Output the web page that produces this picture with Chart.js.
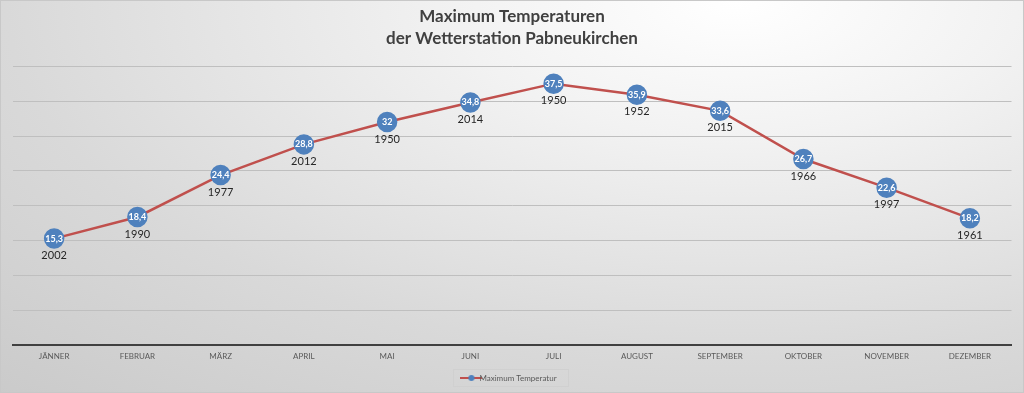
<!DOCTYPE html>
<html>
<head>
<meta charset="utf-8">
<script src="https://cdn.jsdelivr.net/npm/chart.js@4/dist/chart.umd.min.js"></script>
<style>
  html, body { margin: 0; padding: 0; }
  #wrap {
    width: 1022px; height: 391px;
    border: 1px solid #c8c8c8;
    background: radial-gradient(ellipse 110% 140% at 72% 0%, #ffffff 0%, #f2f2f2 25%, #d9d9d9 65%, #c9c9c9 100%);
  }
</style>
</head>
<body>
<div id="wrap"><canvas id="myChart" width="1022" height="391"></canvas></div>
<script>
// months on the x axis
var months = ['JÄNNER', 'FEBRUAR', 'MÄRZ', 'APRIL', 'MAI', 'JUNI', 'JULI', 'AUGUST', 'SEPTEMBER', 'OKTOBER', 'NOVEMBER', 'DEZEMBER'];
// highest temperature per month
var maxTemp = [15.3, 18.4, 24.4, 28.8, 32, 34.8, 37.5, 35.9, 33.6, 26.7, 22.6, 18.2];
// year the record was set
var years = ['2002', '1990', '1977', '2012', '1950', '2014', '1950', '1952', '2015', '1966', '1997', '1961'];

var red = '#c0504d';
var blue = '#4f81bd';

// little legend symbol: line with a dot
var sym = document.createElement('canvas');
sym.width = 22; sym.height = 8;
var sc = sym.getContext('2d');
sc.strokeStyle = red; sc.lineWidth = 2;
sc.beginPath(); sc.moveTo(0, 4); sc.lineTo(22, 4); sc.stroke();
sc.fillStyle = blue;
sc.beginPath(); sc.arc(11, 4, 3, 0, Math.PI * 2); sc.fill();

// draws value inside the marker and the year below it
var labelPlugin = {
    id: 'labels',
    afterDatasetsDraw: function(chart) {
        var c = chart.ctx;
        var meta = chart.getDatasetMeta(0);
        c.save();
        c.textAlign = 'center';
        c.textBaseline = 'middle';
        meta.data.forEach(function(pt, i) {
            c.fillStyle = '#ffffff';
            c.font = 'bold 9px Lato';
            c.fillText(String(maxTemp[i]).replace('.', ','), pt.x, pt.y);
            c.fillStyle = '#262626';
            c.font = '11px Lato';
            c.fillText(years[i], pt.x, pt.y + 17);
        });
        c.restore();
    },
    afterDraw: function(chart) {
        // frame around the legend item
        var b = chart.legend.legendHitBoxes[0];
        if (!b) return;
        var c = chart.ctx;
        c.save();
        c.strokeStyle = '#d0d0d0';
        c.lineWidth = 1;
        c.strokeRect(Math.round(b.left - 14) + 0.5, Math.round(b.top - 5) + 0.5, Math.round(b.width + 26), Math.round(b.height + 9));
        c.restore();
    }
};

var ctx = document.getElementById('myChart');
var myChart = new Chart(ctx, {
    type: 'line',
    data: {
        labels: months,
        datasets: [{
            label: 'Maximum Temperatur',
            data: maxTemp,
            borderColor: red,
            borderWidth: 2.5,
            backgroundColor: blue,
            pointBackgroundColor: blue,
            pointBorderColor: blue,
            pointRadius: 9,
            pointHoverRadius: 9,
            pointStyle: 'circle',
            tension: 0
        }]
    },
    options: {
        responsive: false,
        maintainAspectRatio: false,
        animation: false,
        layout: { padding: { left: 9, right: 9, top: 0, bottom: 0 } },
        plugins: {
            title: {
                display: true,
                text: ['Maximum Temperaturen', 'der Wetterstation Pabneukirchen'],
                color: '#404040',
                font: { family: 'Lato', size: 17, weight: 'bold', lineHeight: 1.3 },
                padding: { top: 4, bottom: 17 }
            },
            legend: {
                position: 'bottom',
                labels: {
                    usePointStyle: true,
                    pointStyle: sym,
                    color: '#595959',
                    font: { family: 'Lato', size: 8 },
                    padding: 7,
                    generateLabels: function(chart) {
                        return [{ text: 'Maximum Temperatur', pointStyle: sym, fontColor: '#595959', lineWidth: 0, datasetIndex: 0 }];
                    }
                }
            },
            tooltip: { enabled: false }
        },
        scales: {
            x: {
                offset: true,
                grid: { display: false, drawTicks: false, tickLength: 0 },
                border: { display: true, color: '#404040', width: 2 },
                ticks: { color: '#595959', font: { family: 'Lato', size: 8 }, padding: 6, maxRotation: 0 }
            },
            y: {
                min: 0,
                max: 40,
                ticks: { display: false, stepSize: 5 },
                border: { display: false },
                grid: { color: '#bfbfbf', lineWidth: 1, drawTicks: false, tickLength: 0 }
            }
        }
    },
    plugins: [labelPlugin]
});
</script>
</body>
</html>
